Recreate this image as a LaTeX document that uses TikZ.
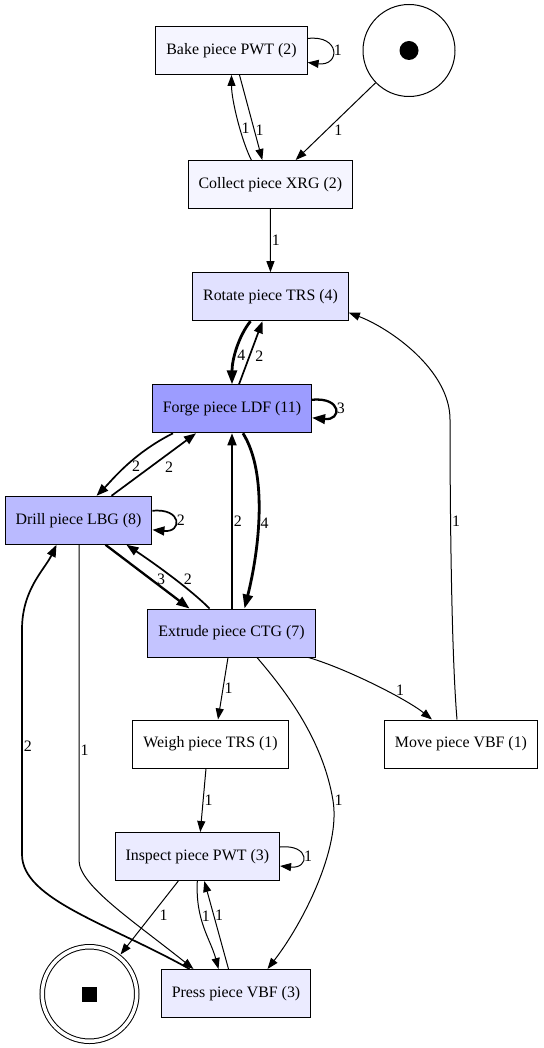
\documentclass[tikz,border=0pt]{standalone}
\usepackage{fontspec}
\setmainfont{Liberation Serif}
\usepackage{xcolor}
\usetikzlibrary{arrows.meta,positioning}

\definecolor{fq2}{HTML}{F5F5FF}
\definecolor{fq3}{HTML}{EBEBFF}
\definecolor{fq4}{HTML}{E1E1FF}
\definecolor{fq7}{HTML}{C4C4FF}
\definecolor{fq8}{HTML}{BABAFF}
\definecolor{fq11}{HTML}{9C9CFF}

\begin{document}
\begin{tikzpicture}[x=1pt, y=-1pt,
    activity/.style={draw, line width=1pt, rectangle, minimum height=48pt, inner xsep=10.5pt, font=\fontsize{15.9}{18}\selectfont},
    place/.style={draw, circle, line width=1pt, inner sep=0pt},
    lbl/.style={inner sep=1pt, font=\fontsize{15.9}{18}\selectfont},
    arc1/.style={-{Triangle[length=11pt,width=8pt]}, line width=1pt},
    arc2/.style={-{Triangle[length=12pt,width=9pt]}, line width=1.7pt},
    arc3/.style={-{Triangle[length=13pt,width=9.5pt]}, line width=2.3pt},
    arc4/.style={-{Triangle[length=14pt,width=10pt]}, line width=2.8pt}]
    \fill[white] (0,0) rectangle (543,1048);

    % Places
    \node[place, minimum size=92pt] (start) at (409,50.5) {};
    \fill (start.center) circle[radius=9.5pt];
    \node[place, double, double distance=3.5pt, minimum size=94.5pt, outer sep=3pt] (end) at (89.5,994) {};
    \fill (end.center) +(-7.5,-7.5) rectangle +(7.5,7.5);

    % Activities
    \node[activity, fill=fq2] (bake) at (231.5,50.5) {Bake piece PWT (2)};
    \node[activity, fill=fq2] (collect) at (270.3,184.5) {Collect piece XRG (2)};
    \node[activity, fill=fq4] (rotate) at (270.5,296.7) {Rotate piece TRS (4)};
    \node[activity, fill=fq11] (forge) at (232,408.8) {Forge piece LDF (11)};
    \node[activity, fill=fq8] (drill) at (78.5,520.3) {Drill piece LBG (8)};
    \node[activity, fill=fq7] (extrude) at (231.5,633) {Extrude piece CTG (7)};
    \node[activity] (weigh) at (210.5,744) {Weigh piece TRS (1)};
    \node[activity] (move) at (461,744) {Move piece VBF (1)};
    \node[activity, fill=fq3] (inspect) at (197.3,856.5) {Inspect piece PWT (3)};
    \node[activity, fill=fq3] (press) at (236,993.5) {Press piece VBF (3)};

    % Arcs, top part
    \draw[arc1] (start) -- (collect) node[lbl, pos=0.61, right=6pt]{1};
    \draw[arc1] ([yshift=12pt]bake.east) .. controls +(33,-4) and +(33,4) .. ([yshift=-12pt]bake.east) node[lbl, pos=0.5, right]{1};
    \draw[arc1] ([xshift=8pt]bake.south) -- ([xshift=-8pt]collect.north) node[lbl, pos=0.645, right]{1};
    \draw[arc1] ([xshift=-19pt]collect.north) .. controls +(-10,-20) and +(0,25) .. (bake.south) node[lbl, pos=0.4, right]{1};
    \draw[arc1] (collect) -- (rotate) node[lbl, midway, right]{1};
    \draw[arc4] ([xshift=-20pt]rotate.south) .. controls +(-12,15) and +(0,-25) .. (forge.north) node[lbl, pos=0.6, right]{4};
    \draw[arc2] ([xshift=7pt]forge.north) -- ([xshift=-8pt]rotate.south) node[lbl, pos=0.45, right=4pt]{2};
    \draw[arc3] ([yshift=9pt]forge.east) .. controls +(30,-3) and +(30,3) .. ([yshift=-9pt]forge.east) node[lbl, pos=0.5, right]{3};

    % Arcs, middle part
    \draw[arc2] ([xshift=-59pt]forge.south) .. controls +(-40,20) and +(15,-15) .. ([xshift=18pt]drill.north) node[lbl, pos=0.5, right=5pt]{2};
    \draw[arc2] ([xshift=33pt]drill.north) -- ([xshift=-36pt]forge.south) node[lbl, pos=0.46, right=13pt]{2};
    \draw[arc2] ([yshift=9.5pt]drill.east) .. controls +(30,-3) and +(30,3) .. ([yshift=-9.5pt]drill.east) node[lbl, pos=0.5, right]{2};
    \draw[arc4] ([xshift=11pt]forge.south) .. controls +(25,40) and +(15,-60) .. ([xshift=13pt]extrude.north) node[lbl, pos=0.55, right]{4};
    \draw[arc2] (extrude.north -| forge) -- (forge.south) node[lbl, midway, right]{2};
    \draw[arc3] ([xshift=27pt]drill.south) -- ([xshift=-42pt]extrude.north) node[lbl, pos=0.54, right=4pt]{3};
    \draw[arc2] ([xshift=-22pt]extrude.north) .. controls +(-20,-20) and +(27,18) .. ([xshift=48pt]drill.south) node[lbl, pos=0.45, right=7pt]{2};

    % Arcs, lower part
    \draw[arc1] ([xshift=-3.5pt]extrude.south) -- ([xshift=7.5pt]weigh.north) node[lbl, midway, right]{1};
    \draw[arc1] ([xshift=-7pt]extrude.south east) .. controls +(40,12) and +(-25,-20) .. ([xshift=-29pt]move.north) node[lbl, pos=0.65, above right, inner sep=0pt]{1};
    \draw[arc1] ([xshift=-4pt]move.north) .. controls +(-6,-70) and +(0,70) .. ++(-7,-300) node[lbl, pos=0.64, right]{1}
        .. controls +(0,-50) and +(40,15) .. ([yshift=-16pt]rotate.east);
    \draw[arc1] ([xshift=25.5pt]extrude.south) .. controls +(30,35) and +(-10,-60) .. ++(76,143) node[lbl, right]{1}
        .. controls +(8,48) and +(35,-45) .. ([xshift=31.5pt]press.north);
    \draw[arc1] ([xshift=-4.5pt]weigh.south) -- ([xshift=3pt]inspect.north) node[lbl, midway, right]{1};
    \draw[arc1] ([yshift=9.5pt]inspect.east) .. controls +(30,-3) and +(30,3) .. ([yshift=-9.5pt]inspect.east) node[lbl, pos=0.5, right]{1};
    \draw[arc1] ([xshift=-19pt]inspect.south) -- (end) node[lbl, pos=0.47, right=7pt]{1};
    \draw[arc1] (inspect.south) .. controls +(-2,40) and +(-8,-30) .. ([xshift=-17.5pt]press.north) node[lbl, pos=0.35, right]{1};
    \draw[arc1] ([xshift=-7.5pt]press.north) -- ([xshift=7pt]inspect.south) node[lbl, pos=0.61, right]{1};

    % Drill and Press
    \draw[arc1] ([xshift=0.5pt]drill.south) -- ++(0,315.5) node[lbl, pos=0.65, right]{1}
        .. controls +(0,25) and +(-60,-48) .. ([xshift=-42.5pt]press.north);
    \draw[arc2] ([xshift=-46.5pt]press.north) .. controls +(-80,-45) and +(0,45) .. ++(-167.5,-114.5)
        -- ++(0,-225) node[lbl, pos=0.48, right]{2}
        .. controls +(0,-40) and +(-12,25) .. ([xshift=-22pt]drill.south);
\end{tikzpicture}
\end{document}
